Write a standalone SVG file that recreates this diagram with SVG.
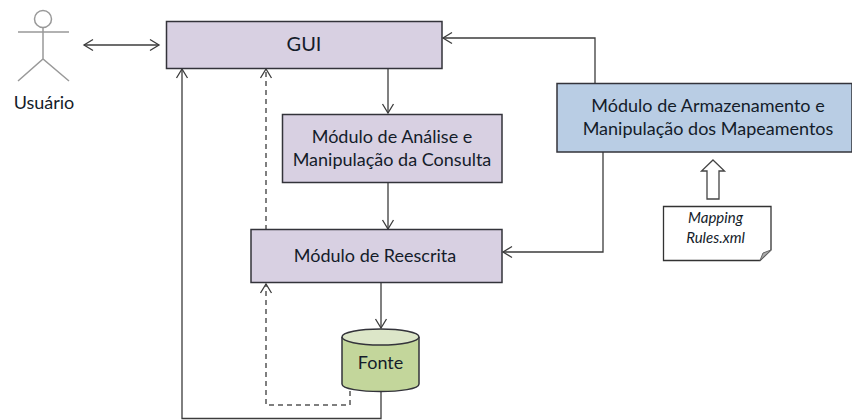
<svg xmlns="http://www.w3.org/2000/svg" width="852" height="420" viewBox="0 0 852 420">
<style>
.t{font-family:Lato,"Open Sans",sans-serif;font-size:18px;fill:#141c2a;text-anchor:middle}
.box{stroke:#33333a;stroke-width:1.5}
.p{fill:#d8d0e2}
.c{fill:none;stroke:#3c3c3c;stroke-width:1.3}
.d{stroke-dasharray:5 4;stroke:#555;stroke-width:1.5}
.s{fill:none;stroke:#999;stroke-width:1.5}
</style>
<defs>
<marker id="a" markerUnits="userSpaceOnUse" markerWidth="14" markerHeight="14" refX="11" refY="7" orient="auto-start-reverse"><path d="M2 1.500L11 7L2 12.500" fill="none" stroke="#3c3c3c" stroke-width="1.300"/></marker>
</defs>
<rect width="852" height="420" fill="#fff"/>
<g id="connectors">
<path class="c" d="M84 45H159" marker-start="url(#a)" marker-end="url(#a)"/>
<path class="c" d="M388 69V113" marker-end="url(#a)"/>
<path class="c" d="M388 183V229" marker-end="url(#a)"/>
<path class="c" d="M381 283V328" marker-end="url(#a)"/>
<path class="c" d="M381 391V418.500H182V69" marker-end="url(#a)"/>
<path class="c d" d="M266 230V69" marker-end="url(#a)"/>
<path class="c d" d="M350 391V405H266V284" marker-end="url(#a)"/>
<path class="c" d="M595 83V38H443" marker-end="url(#a)"/>
<path class="c" d="M603 152V252H503" marker-end="url(#a)"/>
</g>
<g id="usuario">
<circle class="s" cx="43" cy="19" r="8.500"/>
<path class="s" d="M43 27.500V59M18 32H69M18 81L43 59L69 81"/>
<text class="t" x="44" y="109">Usuário</text>
</g>
<g id="gui"><rect class="box p" x="166.500" y="21.500" width="275.500" height="47"/><text class="t" x="304" y="51" style="font-size:20px">GUI</text></g>
<g id="analise"><rect class="box p" x="282.500" y="114.500" width="219.500" height="68"/><text class="t" x="392" y="143">Módulo de Análise e</text><text class="t" x="392" y="166">Manipulação da Consulta</text></g>
<g id="reescrita"><rect class="box p" x="251" y="229.500" width="251" height="53"/><text class="t" x="375" y="262">Módulo de Reescrita</text></g>
<g id="mapeamentos"><rect class="box" fill="#b9cde4" x="557" y="83.500" width="295" height="68.500"/><text class="t" x="708" y="112">Módulo de Armazenamento e</text><text class="t" x="708" y="135">Manipulação dos Mapeamentos</text></g>
<g id="fonte">
<path class="box" fill="#c3d69b" d="M342 337V384C342 394 419 394 419 384V337"/>
<ellipse class="box" fill="#dce6c8" cx="380.500" cy="337" rx="38.500" ry="8"/>
<text class="t" x="380.500" y="369">Fonte</text>
</g>
<g id="seta"><path d="M713 160L724.500 171H719V199H707V171H701.500Z" fill="#fff" stroke="#444" stroke-width="1.300"/></g>
<g id="mapping">
<path d="M663.500 206.500H771V250L760 260.500H663.500Z" fill="#fff" stroke="#333" stroke-width="1.300"/>
<path d="M760 260.500L763 253L771 250Z" fill="#aaa" stroke="#666"/>
<text class="t" x="715.500" y="223" style="font-size:15px;font-style:italic">Mapping</text>
<text class="t" x="715.500" y="243" style="font-size:15px;font-style:italic">Rules.xml</text>
</g>
</svg>
